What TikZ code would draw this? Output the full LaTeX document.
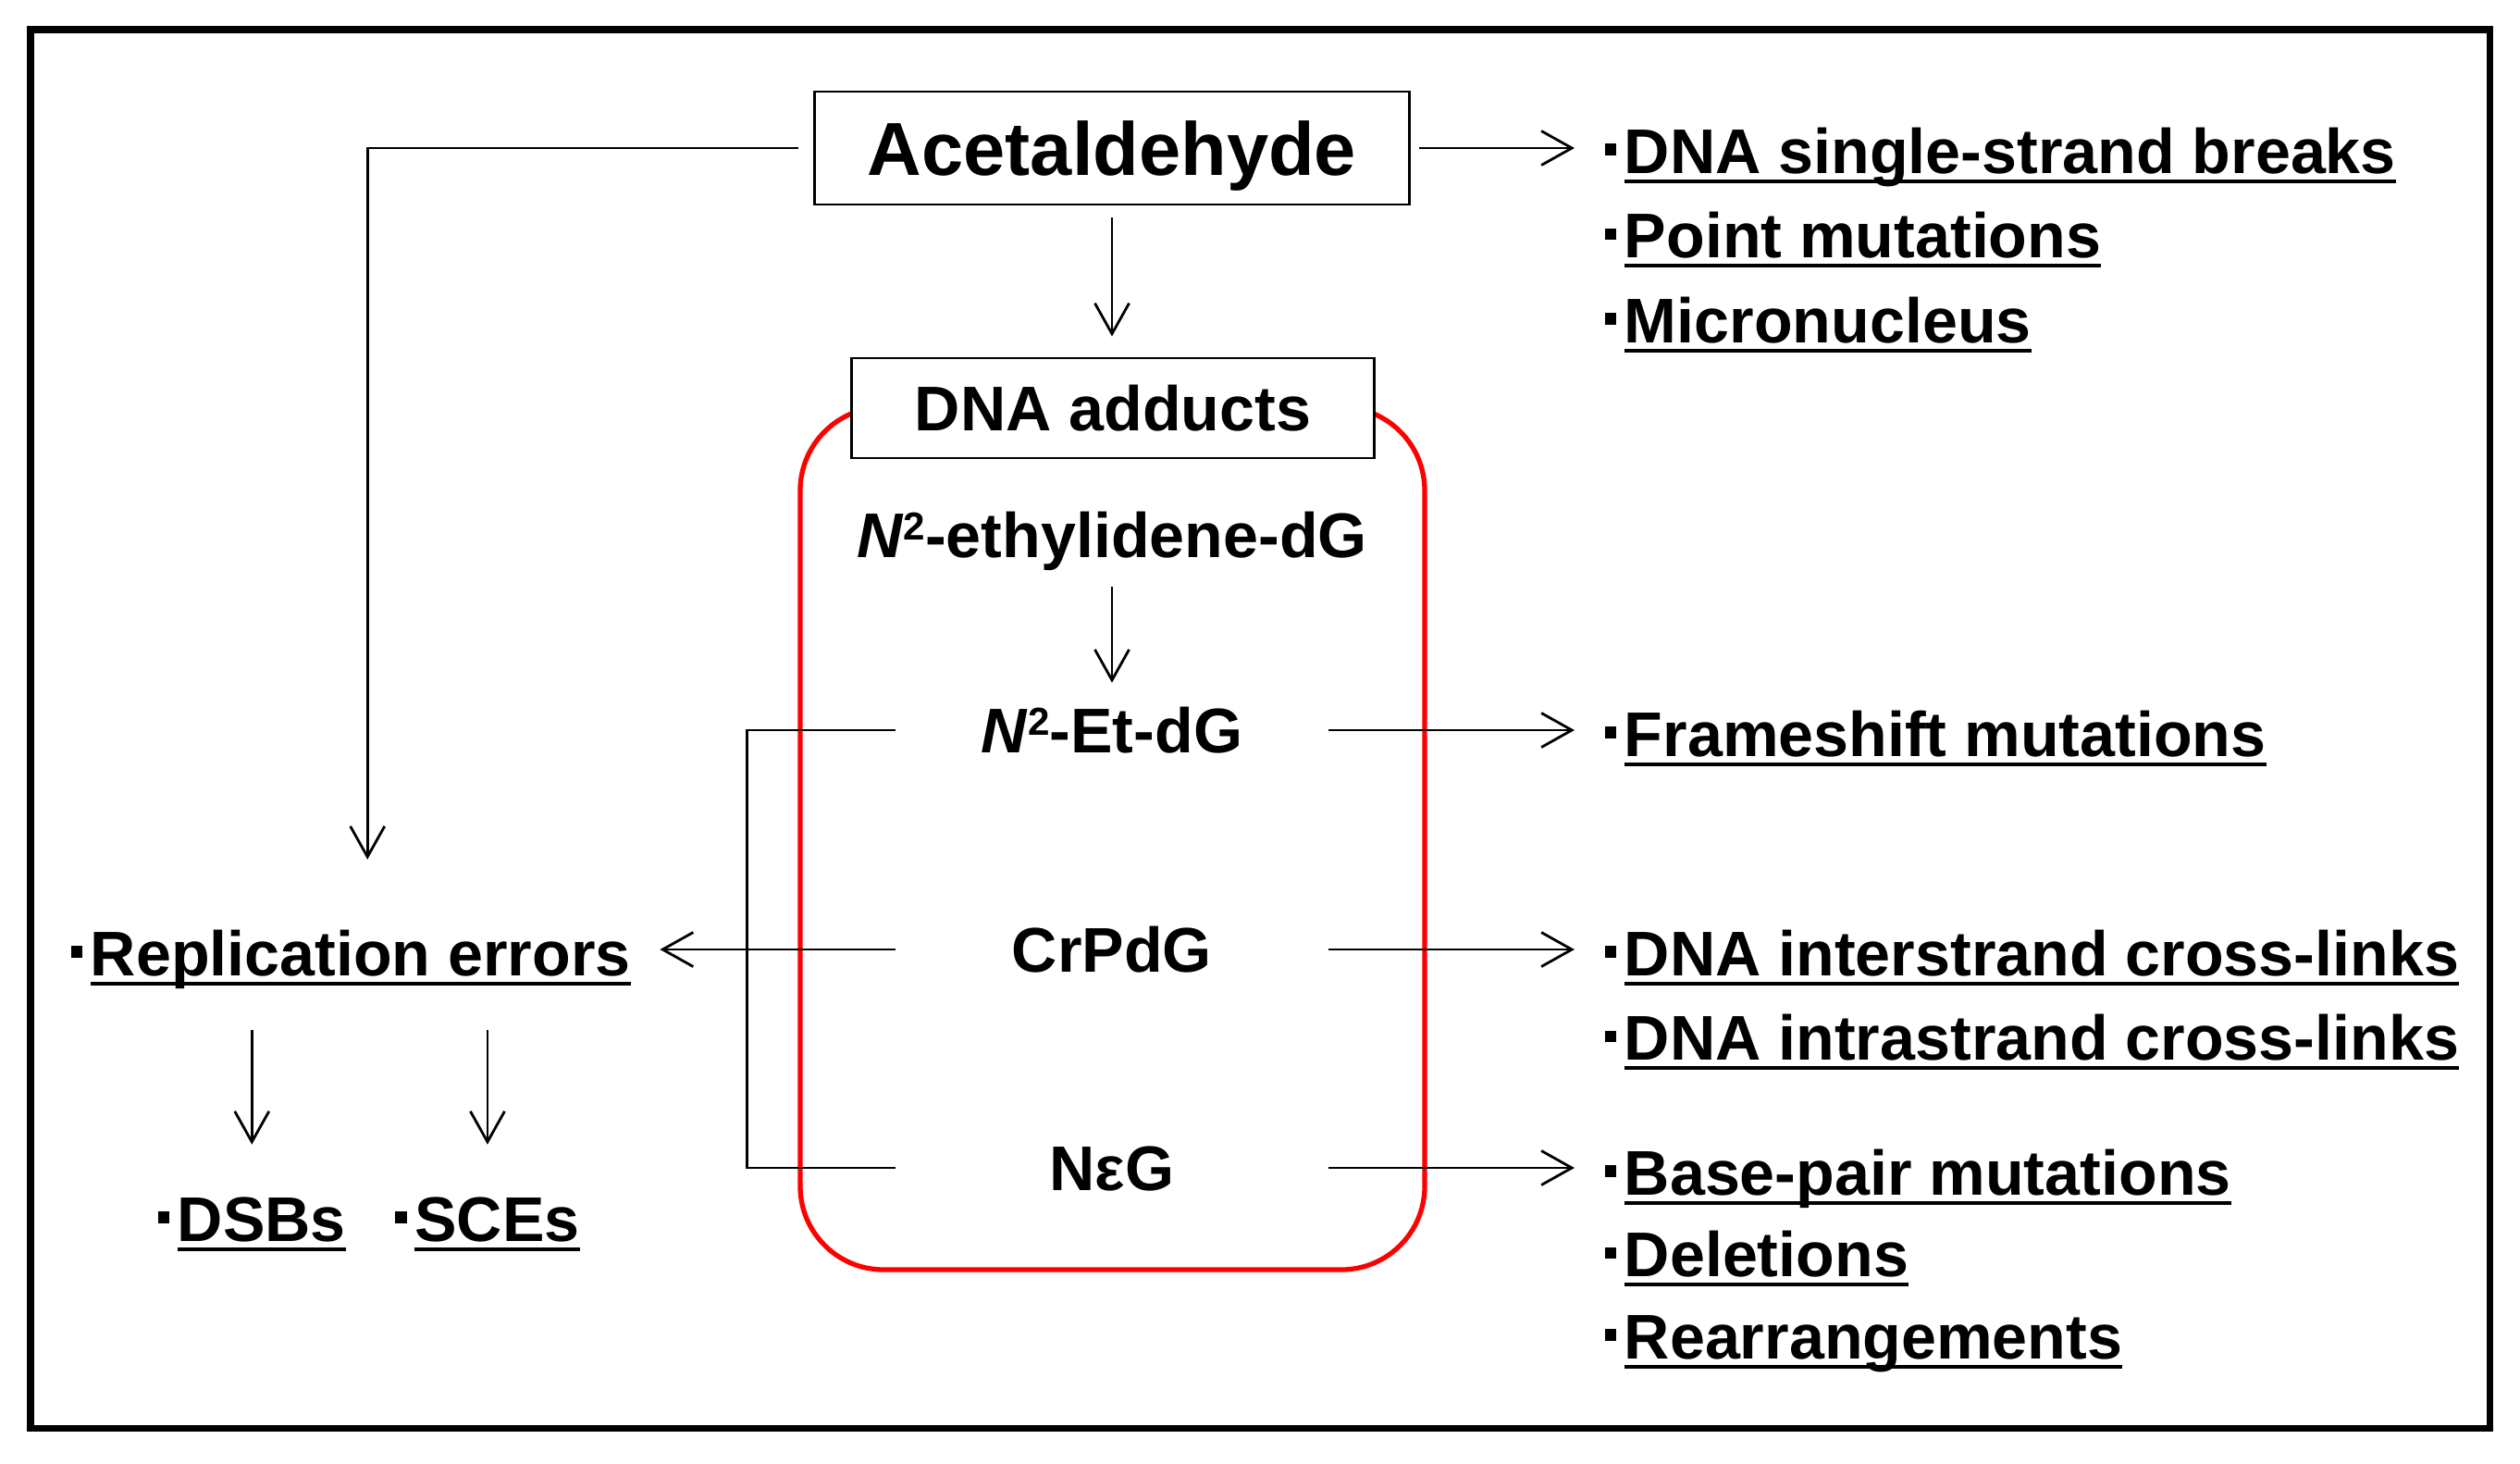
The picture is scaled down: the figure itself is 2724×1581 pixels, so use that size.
\documentclass[tikz,border=0pt]{standalone}
\usepackage{fontspec}
\setmainfont{Liberation Sans}
\usetikzlibrary{positioning, arrows.meta}

\newcommand{\undl}[1]{\setbox0\hbox{#1}\rlap{\rule[-0.15em]{\wd0}{0.06em}}\box0}
\newcommand{\bitem}[1]{\rule[0.29em]{0.18em}{0.18em}\hspace{0.13em}\undl{#1}}
\newcommand{\Ntwo}{\textit{N}\raisebox{5.3pt}{\fontsize{12}{12}\selectfont 2}}

\begin{document}
\begin{tikzpicture}[
    x=0.01cm, y=-0.01cm,
    block/.style={rectangle, draw, line width=0.8pt, fill=white, inner sep=0pt},
    adduct/.style={inner sep=0pt, minimum width=4.66cm, text height=0.63cm, text depth=0.14cm, font=\fontsize{19.4}{23}\selectfont\bfseries},
    effect/.style={inner sep=0pt, anchor=west, text height=0.63cm, text depth=0.14cm, font=\fontsize{19.4}{23}\selectfont\bfseries},
    arr/.style={-{Straight Barb[length=0.33cm, width=0.37cm]}, line width=0.8pt},
    link/.style={line width=0.8pt}
]
\useasboundingbox (0,0) rectangle (2724,1581);

% Frame and adduct region
\draw[line width=2pt] (33,32) rectangle (2691,1543);
\draw[red, line width=1.5pt, rounded corners=0.9cm] (865,440) rectangle (1540,1372);

% Acetaldehyde and DNA adducts
\node[block, minimum width=6.42cm, minimum height=1.22cm, text height=0.75cm, text depth=0.16cm, font=\fontsize{23.1}{28}\selectfont\bfseries] (acet) at (1202,160) {Acetaldehyde};
\node[block, minimum width=5.64cm, minimum height=1.08cm, text height=0.63cm, text depth=0.14cm, font=\fontsize{19.4}{23}\selectfont\bfseries] (adducts) at (1203,441) {DNA adducts};

\node[adduct] (eth) at (1202,578) {\Ntwo-ethylidene-dG};
\node[adduct] (etdg) at (1202,789) {\Ntwo-Et-dG};
\node[adduct] (crpdg) at (1202,1026) {CrPdG};
\node[adduct] (neg) at (1202,1262) {NεG};

% Effects (right)
\node[effect] (ssb) at (1734,163) {\bitem{DNA single-strand breaks}};
\node[effect, below=0.13cm of ssb.south west, anchor=north west] (pm) {\bitem{Point mutations}};
\node[effect, below=0.13cm of pm.south west, anchor=north west] (mn) {\bitem{Micronucleus}};
\node[effect] (fs) at (1734,793) {\bitem{Frameshift mutations}};
\node[effect] (inter) at (1734,1030) {\bitem{DNA interstrand cross-links}};
\node[effect, below=0.13cm of inter.south west, anchor=north west] (intra) {\bitem{DNA intrastrand cross-links}};
\node[effect] (bp) at (1734,1267) {\bitem{Base-pair mutations}};
\node[effect, below=0.1cm of bp.south west, anchor=north west] (del) {\bitem{Deletions}};
\node[effect, below=0.1cm of del.south west, anchor=north west] (rea) {\bitem{Rearrangements}};

% Effects (left)
\node[effect] (repl) at (76,1030) {\bitem{Replication errors}};
\node[effect] (dsbs) at (170,1317) {\bitem{DSBs}};
\node[effect, right=0.52cm of dsbs] (sces) {\bitem{SCEs}};

% Connections
\draw[arr, shorten <=0.13cm, shorten >=0.22cm] (acet.south) -- (acet.south |- adducts.north);
\draw[arr, shorten <=0.09cm, shorten >=0.32cm] (acet.east) -- (acet.east -| ssb.west);
\draw[arr, shorten <=0.16cm, shorten >=0.62cm] (acet.west) -| ([xshift=0.18cm]repl.north);
\draw[arr, shorten <=0.17cm, shorten >=0.12cm] (eth.south) -- (etdg.north);
\draw[arr, shorten >=0.32cm] (etdg.east) -- (etdg.east -| fs.west);
\draw[arr, shorten >=0.32cm] (crpdg.east) -- (crpdg.east -| inter.west);
\draw[arr, shorten >=0.32cm] (neg.east) -- (neg.east -| bp.west);
\draw[arr, shorten >=0.31cm] (crpdg.west) -- (crpdg.west -| repl.east);
\draw[link] (etdg.west) -- ++(-161,0) |- (neg.west);
\draw[arr, shorten <=0.44cm, shorten >=0.41cm] (dsbs.north |- repl.south) -- (dsbs.north);
\draw[arr, shorten <=0.44cm, shorten >=0.41cm] (sces.north |- repl.south) -- (sces.north);

\end{tikzpicture}
\end{document}
